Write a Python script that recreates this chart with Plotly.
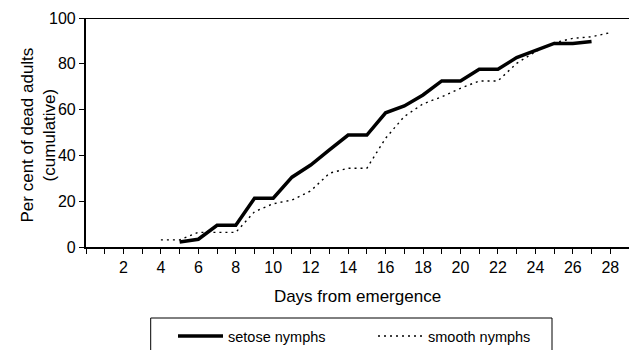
import plotly.graph_objects as go

days_setose = [5, 6, 7, 8, 9, 10, 11, 12, 13, 14, 15, 16, 17, 18, 19, 20, 21, 22, 23, 24, 25, 26, 27]
pct_setose = [2.2, 3.4, 9.5, 9.5, 21.3, 21.3, 30.5, 35.8, 42.4, 48.9, 48.9, 58.6, 61.6, 66.4, 72.5, 72.5,
              77.6, 77.6, 82.7, 85.7, 88.9, 88.9, 89.7]

days_smooth = [4, 5, 6, 7, 8, 9, 10, 11, 12, 13, 14, 15, 16, 17, 18, 19, 20, 21, 22, 23, 24, 25, 26, 27, 28]
pct_smooth = [3.1, 3.1, 6.4, 6.4, 6.4, 15.4, 18.9, 20.5, 24.5, 32.2, 34.4, 34.4, 47.5, 57.0, 62.5, 65.6,
              69.3, 72.5, 72.5, 80.2, 85.3, 89.2, 91.1, 91.8, 93.6]

x_ticks = list(range(0, 30))
x_labels = [str(v) if (v % 2 == 0 and v > 0) else "" for v in x_ticks]
y_ticks = [0, 20, 40, 60, 80, 100]

FONT = "Liberation Sans, Arial, sans-serif"

fig = go.Figure()
fig.add_trace(go.Scatter(x=days_setose, y=pct_setose, mode="lines", name="setose nymphs",
                         line=dict(color="black", width=3.5)))
fig.add_trace(go.Scatter(x=days_smooth, y=pct_smooth, mode="lines", name="smooth nymphs",
                         line=dict(color="black", width=1.4, dash="2px,4px")))

# top border line of plot area
fig.add_shape(type="line", xref="paper", yref="y", x0=0, x1=1, y0=100, y1=100,
              line=dict(color="black", width=2.2))
# legend frame
fig.add_shape(type="rect", xref="paper", yref="paper",
              x0=(150.7 - 86) / 543, x1=(552 - 86) / 543,
              y0=(247 - 318) / 229, y1=(247 - 370) / 229,
              line=dict(color="black", width=1), layer="above")

# y axis title (two lines)
fig.add_annotation(text="Per cent of dead adults<br>(cumulative)", textangle=-90,
                   xref="paper", yref="paper", x=(37.5 - 86) / 543, y=(247 - 135) / 229,
                   xanchor="center", yanchor="middle", showarrow=False,
                   font=dict(size=17, family=FONT, color="black"))

fig.update_layout(
    width=629, height=350,
    margin=dict(l=86, r=0, t=18, b=103, autoexpand=False),
    paper_bgcolor="white", plot_bgcolor="white",
    font=dict(family=FONT, color="black", size=16),
    showlegend=True,
    legend=dict(orientation="h", x=(173 - 86) / 543, xanchor="left",
                y=(247 - 320) / 229, yanchor="top",
                font=dict(size=14.5, family=FONT), entrywidth=140, itemwidth=45,
                bgcolor="rgba(0,0,0,0)", borderwidth=0),
    xaxis=dict(range=[0, 29], tickmode="array", tickvals=x_ticks, ticktext=x_labels,
               showgrid=False, zeroline=False, showline=True, linecolor="black", linewidth=2.2,
               ticks="outside", ticklen=5, tickcolor="black", tickwidth=1,
               tickfont=dict(size=16), automargin=False,
               title=dict(text="Days from emergence", font=dict(size=17), standoff=15)),
    yaxis=dict(range=[0, 100], tickmode="array", tickvals=y_ticks,
               showgrid=False, zeroline=False, showline=True, linecolor="black", linewidth=2.2,
               ticks="outside", ticklen=5, tickcolor="black", tickwidth=1,
               tickfont=dict(size=16), automargin=False),
)

fig.write_html("out.html", config={"displayModeBar": False},
               post_script="document.body.style.margin='0';")
